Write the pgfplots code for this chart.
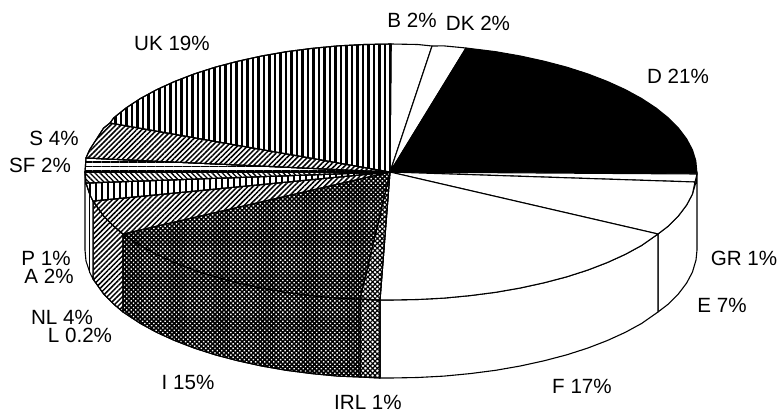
\documentclass[border=0pt]{standalone}
\usepackage{pgfplots}
\pgfplotsset{compat=1.18}
\usepackage{fontspec}
\setmainfont{Liberation Sans}
\usetikzlibrary{patterns.meta}
\tikzset{
 lab/.style={font=\fontsize{20.6}{21}\selectfont,inner sep=0pt,anchor=center},
}
\pgfplotsset{
 sl/.style={draw=black,line width=1.1pt,line join=round},
 uk/.style={sl,fill=white,postaction={pattern={Lines[angle=90,distance=5.5pt,line width=2.4pt]},pattern color=black}},
 diag/.style={sl,fill=white,postaction={pattern={Lines[angle=45,distance=3.6pt,line width=1.5pt]},pattern color=black}},
 back/.style={sl,fill=white,postaction={pattern={Lines[angle=-45,distance=3.6pt,line width=1.3pt]},pattern color=black}},
 hor/.style={sl,fill=white,postaction={pattern={Lines[angle=0,distance=4.5pt,line width=1.1pt]},pattern color=black}},
 ver/.style={sl,fill=white,postaction={pattern={Lines[angle=90,distance=6pt,line width=1.6pt]},pattern color=black}},
 dark/.style={sl,fill=black,postaction={pattern={Dots[distance=3.2pt,radius=1.0pt,angle=45]},pattern color=white}},
 chk/.style={sl,fill=white,postaction={pattern={Hatch[distance=3.4pt,line width=1.2pt,angle=45]},pattern color=black}},
}
\begin{document}
\begin{tikzpicture}
\begin{axis}[
 scale only axis,width=779pt,height=414pt,
 xmin=0,xmax=779,ymin=0,ymax=414,y dir=reverse,
 hide axis,clip=false]
\path (axis cs:0,0) rectangle (axis cs:779,414);
% walls
\addplot[sl,fill=white] coordinates {(658,234)(668.3,226.1)(678.5,215.8)(686.6,205.1)(692.4,194.2)(696,182)(697,172)(697,250)(696,260)(692.4,272.2)(686.6,283.1)(678.5,293.8)(668.3,304.1)(658,312)} -- cycle;
\addplot[sl,fill=white] coordinates {(380,300)(391,300)(417.7,299.5)(444.1,298.1)(470.2,295.6)(495.7,292.3)(520.3,288)(544,282.8)(566.5,276.9)(587.7,270.1)(607.4,262.5)(625.4,254.3)(641.7,245.4)(658,234)(658,312)(641.7,323.4)(625.4,332.3)(607.4,340.5)(587.7,348.1)(566.5,354.9)(544,360.8)(520.3,366)(495.7,370.3)(470.2,373.6)(444.1,376.1)(417.7,377.5)(391,378)(380,378)} -- cycle;
\addplot[chk] coordinates {(360,299)(380,300)(380,378)(360,377)} -- cycle;
\addplot[dark] coordinates {(123,234)(140.3,245.4)(156.6,254.3)(174.6,262.5)(194.3,270.1)(215.5,276.9)(238,282.8)(261.7,288)(286.3,292.3)(311.8,295.6)(337.9,298.1)(360,299)(360,377)(337.9,376.1)(311.8,373.6)(286.3,370.3)(261.7,366)(238,360.8)(215.5,354.9)(194.3,348.1)(174.6,340.5)(156.6,332.3)(140.3,323.4)(123,312)} -- cycle;
\addplot[diag] coordinates {(93,201)(103.5,215.8)(113.7,226.1)(123,234)(123,312)(113.7,304.1)(103.5,293.8)(93,279)} -- cycle;
\addplot[sl,fill=white] coordinates {(85,172)(86,183)(90,195)(93,201)(93,279)(90,273)(86,261)(85,250)} -- cycle;
\addplot[sl] coordinates {(89.5,195)(89.5,273)};
% top face
\addplot[sl,fill=white] coordinates {(390,172)(391,44)(417.7,44.5)(432,46)} -- cycle;
\addplot[sl,fill=white] coordinates {(390,172)(432,46)(444.1,45.9)(466,48)} -- cycle;
\addplot[sl,fill=black] coordinates {(390,172)(466,48)(495.7,51.7)(520.3,56)(544,61.2)(566.5,67.1)(587.7,73.9)(607.4,81.5)(625.4,89.7)(641.7,98.6)(656,108)(668.3,117.9)(678.5,128.2)(686.6,138.9)(692.4,149.8)(695.8,160.8)(697,174)} -- cycle;
\addplot[sl,fill=white] coordinates {(390,172)(697,174)(695,182)} -- cycle;
\addplot[sl,fill=white] coordinates {(390,172)(695,182)(692.4,194.2)(686.6,205.1)(678.5,215.8)(668.3,226.1)(658,234)} -- cycle;
\addplot[sl,fill=white] coordinates {(390,172)(658,234)(641.7,245.4)(625.4,254.3)(607.4,262.5)(587.7,270.1)(566.5,276.9)(544,282.8)(520.3,288)(495.7,292.3)(470.2,295.6)(444.1,298.1)(417.7,299.5)(391,300)(380,300)} -- cycle;
\addplot[chk] coordinates {(390,172)(380,300)(360,299)} -- cycle;
\addplot[dark] coordinates {(390,172)(360,299)(337.9,298.1)(311.8,295.6)(286.3,292.3)(261.7,288)(238,282.8)(215.5,276.9)(194.3,270.1)(174.6,262.5)(156.6,254.3)(140.3,245.4)(123,234)} -- cycle;
\addplot[diag] coordinates {(390,172)(123,234)(113.7,226.1)(103.5,215.8)(93,201)} -- cycle;
\addplot[ver] coordinates {(390,172)(93,201)(90,195)(86,183)} -- cycle;
\addplot[back] coordinates {(390,172)(86,183)(85,172)} -- cycle;
\addplot[hor] coordinates {(390,172)(85,172)(86,158)} -- cycle;
\addplot[diag] coordinates {(390,172)(86,158)(89.6,149.8)(103.5,128.2)(110,123)} -- cycle;
\addplot[uk] coordinates {(390,172)(110,123)(113.7,117.9)(126,108)(140.3,98.6)(156.6,89.7)(174.6,81.5)(194.3,73.9)(215.5,67.1)(238,61.2)(261.7,56)(286.3,51.7)(311.8,48.4)(337.9,45.9)(364.3,44.5)(391,44)} -- cycle;
% labels
\node[lab] at (axis cs:172,43) {UK 19\%};
\node[lab] at (axis cs:412,20) {B 2\%};
\node[lab] at (axis cs:478,23) {DK 2\%};
\node[lab] at (axis cs:678,76) {D 21\%};
\node[lab] at (axis cs:744,258) {GR 1\%};
\node[lab] at (axis cs:722,305) {E 7\%};
\node[lab] at (axis cs:582,386) {F 17\%};
\node[lab] at (axis cs:368,402) {IRL 1\%};
\node[lab] at (axis cs:188,382) {I 15\%};
\node[lab] at (axis cs:80,335) {L 0.2\%};
\node[lab] at (axis cs:62,317) {NL 4\%};
\node[lab] at (axis cs:49,276) {A 2\%};
\node[lab] at (axis cs:46,258) {P 1\%};
\node[lab] at (axis cs:40,165) {SF 2\%};
\node[lab] at (axis cs:54,138) {S 4\%};
\end{axis}
\end{tikzpicture}
\end{document}
